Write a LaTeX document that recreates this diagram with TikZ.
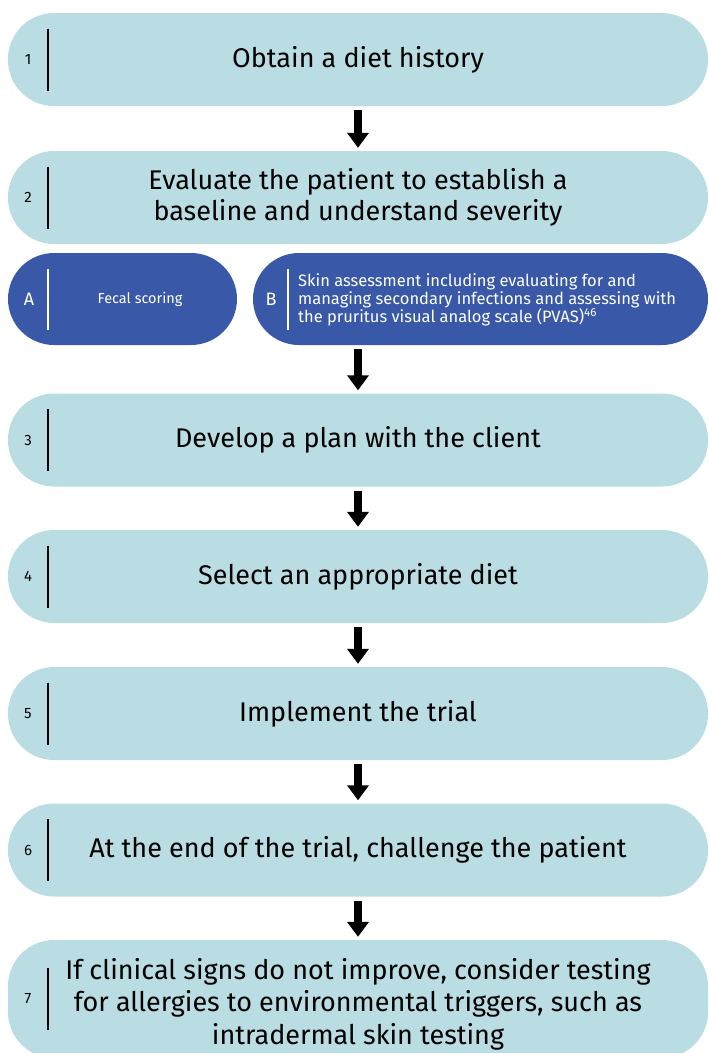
\documentclass[tikz,border=0pt]{standalone}
\usepackage{fontspec}
\setmainfont{Fira Sans}
\usetikzlibrary{arrows.meta}
\definecolor{steplight}{RGB}{185,221,226}
\definecolor{stepdark}{RGB}{57,89,168}

\begin{document}
\begin{tikzpicture}[x=1pt, y=-1pt]
\tikzstyle{step box}=[rectangle, fill=steplight, minimum width=700pt, minimum height=93pt, rounded corners=46pt, inner sep=0pt, align=center, font=\fontsize{27}{31}\selectfont]
\tikzstyle{sub box}=[step box, fill=stepdark]
\tikzstyle{step text}=[align=center, inner sep=0pt, font=\fontsize{27}{32.5}\selectfont]
\tikzstyle{step number}=[font=\fontsize{15}{15}\selectfont]
\tikzstyle{sub number}=[white, font=\fontsize{18}{18}\selectfont]
\tikzstyle{sub text}=[white, align=left, inner sep=0pt, font=\fontsize{16.5}{18}\selectfont]
\tikzstyle{divider}=[black, line width=1.4pt]
\tikzstyle{sub divider}=[white, line width=1.4pt]
\tikzstyle{big arrow}=[line width=7.5pt, -{Triangle[width=21pt,length=15pt]}, shorten <=4pt, shorten >=3pt]

\useasboundingbox (0,0) rectangle (709,1053);

% Draw the step boxes
\foreach \n/\y/\txt in {1/59.5/{Obtain a diet history},
    2/197.5/{Evaluate the patient to establish a\\baseline and understand severity},
    3/440/{Develop a plan with the client},
    4/576.5/{Select an appropriate diet},
    5/713.5/{Implement the trial},
    6/850/{At the end of the trial, challenge the patient}} {
    \node[step box] (step\n) at (358, \y) {\txt};
    \node[step number] (num\n) at (28, \y) {\n};
    \draw[divider] ([xshift=40pt, yshift=31pt]step\n.west) -- ([xshift=40pt, yshift=-31pt]step\n.west);
};

\node[step box, minimum height=118pt] (step7) at (358, 999) {};
\node[step text] (text7) at (358, 1004) {If clinical signs do not improve, consider testing\\for allergies to environmental triggers, such as\\intradermal skin testing};
\node[step number] (num7) at (28, 999) {7};
\draw[divider] ([xshift=40pt, yshift=31pt]step7.west) -- ([xshift=40pt, yshift=-31pt]step7.west);

% Draw the A and B boxes
\node[sub box, minimum width=229pt, minimum height=92pt] (stepA) at (122.5, 299) {};
\node[sub box, minimum width=455pt, minimum height=92pt] (stepB) at (480.5, 299) {};
\node[sub number] (numA) at (29, 299) {A};
\node[sub number] (numB) at (271, 299) {B};
\node[sub text, font=\fontsize{14.5}{18}\selectfont] (textA) at (140, 299) {Fecal scoring};
\node[sub text, anchor=west] (textB) at (298, 300) {Skin assessment including evaluating for and\\managing secondary infections and assessing with\\the pruritus visual analog scale (PVAS)\textsuperscript{46}};
\draw[sub divider] ([xshift=40pt, yshift=30.5pt]stepA.west) -- ([xshift=40pt, yshift=-30.5pt]stepA.west);
\draw[sub divider] ([xshift=35pt, yshift=30.5pt]stepB.west) -- ([xshift=35pt, yshift=-30.5pt]stepB.west);

% Draw the arrows
\foreach \a/\b in {1/2, 3/4, 4/5, 5/6, 6/7}
    \draw[big arrow] (step\a) -- (step\b);
\draw[big arrow] (step3.north |- stepB.south) -- (step3.north);

\end{tikzpicture}
\end{document}
